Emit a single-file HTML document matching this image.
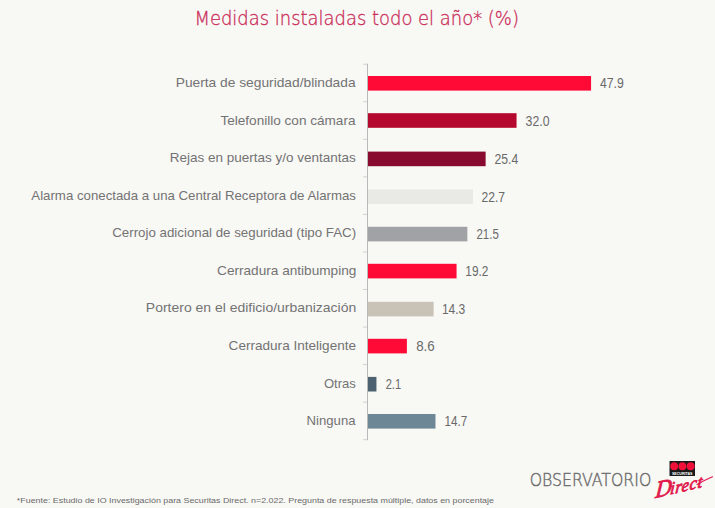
<!DOCTYPE html>
<html><head><meta charset="utf-8"><style>
html,body{margin:0;padding:0;background:#F8F8F5;overflow:hidden}
svg{display:block}
.title{font-family:"DejaVu Sans","Liberation Sans",sans-serif;font-weight:200;font-size:19px;fill:#CA2B57;stroke:#CA2B57;stroke-width:0.3px}
.lab{font-family:"Liberation Sans",sans-serif;font-size:12.8px;fill:#737373}
.val{font-family:"Liberation Sans",sans-serif;font-size:14.8px;fill:#6A6A6A}
.foot{font-family:"Liberation Sans",sans-serif;font-size:8px;fill:#6A6A6A}
.obs{font-family:"DejaVu Sans","Liberation Sans",sans-serif;font-weight:200;font-size:17.6px;fill:#6E6E6E;stroke:#6E6E6E;stroke-width:0.45px}
.sec{font-family:"Liberation Sans",sans-serif;font-size:3.6px;font-weight:bold;fill:#fff}
.dir{font-family:"Liberation Serif",serif;font-style:italic;font-size:20px;fill:#E0174A;stroke:#E0174A;stroke-width:0.8px}
</style></head><body>
<svg width="715" height="508" viewBox="0 0 715 508">
<rect width="715" height="508" fill="#F8F8F5"/>
<text x="194.46" y="24.50" class="title" textLength="324.45" lengthAdjust="spacingAndGlyphs">Medidas instaladas todo el año* (%)</text>
<rect x="367" y="63.70" width="1" height="376.50" fill="#B9B9B9"/>
<rect x="363" y="63.70" width="4" height="1" fill="#D2D2D2"/>
<rect x="363" y="101.25" width="4" height="1" fill="#D2D2D2"/>
<rect x="363" y="138.80" width="4" height="1" fill="#D2D2D2"/>
<rect x="363" y="176.35" width="4" height="1" fill="#D2D2D2"/>
<rect x="363" y="213.90" width="4" height="1" fill="#D2D2D2"/>
<rect x="363" y="251.45" width="4" height="1" fill="#D2D2D2"/>
<rect x="363" y="289.00" width="4" height="1" fill="#D2D2D2"/>
<rect x="363" y="326.55" width="4" height="1" fill="#D2D2D2"/>
<rect x="363" y="364.10" width="4" height="1" fill="#D2D2D2"/>
<rect x="363" y="401.65" width="4" height="1" fill="#D2D2D2"/>
<rect x="363" y="439.20" width="4" height="1" fill="#D2D2D2"/>
<rect x="368" y="76.00" width="223.06" height="14.6" fill="#FF0A36"/>
<text x="175.71" y="87.17" class="lab" textLength="179.87" lengthAdjust="spacingAndGlyphs">Puerta de seguridad/blindada</text>
<text x="600.00" y="88.30" class="val" textLength="23.75" lengthAdjust="spacingAndGlyphs">47.9</text>
<rect x="368" y="113.20" width="148.55" height="14.6" fill="#B4082F"/>
<text x="220.45" y="124.73" class="lab" textLength="135.05" lengthAdjust="spacingAndGlyphs">Telefonillo con cámara</text>
<text x="525.60" y="125.50" class="val" textLength="23.91" lengthAdjust="spacingAndGlyphs">32.0</text>
<rect x="368" y="151.60" width="117.62" height="14.6" fill="#880A2E"/>
<text x="169.73" y="162.27" class="lab" textLength="186.14" lengthAdjust="spacingAndGlyphs">Rejas en puertas y/o ventantas</text>
<text x="494.49" y="163.90" class="val" textLength="23.81" lengthAdjust="spacingAndGlyphs">25.4</text>
<rect x="368" y="189.40" width="104.97" height="14.6" fill="#E9E9E5"/>
<text x="31.32" y="199.82" class="lab" textLength="324.66" lengthAdjust="spacingAndGlyphs">Alarma conectada a una Central Receptora de Alarmas</text>
<text x="481.49" y="201.70" class="val" textLength="23.54" lengthAdjust="spacingAndGlyphs">22.7</text>
<rect x="368" y="226.80" width="99.35" height="14.6" fill="#A1A2A5"/>
<text x="112.27" y="237.38" class="lab" textLength="243.86" lengthAdjust="spacingAndGlyphs">Cerrojo adicional de seguridad (tipo FAC)</text>
<text x="476.50" y="239.10" class="val" textLength="22.28" lengthAdjust="spacingAndGlyphs">21.5</text>
<rect x="368" y="263.80" width="88.57" height="14.6" fill="#FF0A36"/>
<text x="217.07" y="274.92" class="lab" textLength="139.26" lengthAdjust="spacingAndGlyphs">Cerradura antibumping</text>
<text x="465.36" y="276.10" class="val" textLength="23.12" lengthAdjust="spacingAndGlyphs">19.2</text>
<rect x="368" y="301.80" width="65.61" height="14.6" fill="#C9C2B7"/>
<text x="145.86" y="312.47" class="lab" textLength="210.37" lengthAdjust="spacingAndGlyphs">Portero en el edificio/urbanización</text>
<text x="441.92" y="314.10" class="val" textLength="23.38" lengthAdjust="spacingAndGlyphs">14.3</text>
<rect x="368" y="338.80" width="38.90" height="14.6" fill="#FF0A36"/>
<text x="228.61" y="350.02" class="lab" textLength="127.43" lengthAdjust="spacingAndGlyphs">Cerradura Inteligente</text>
<text x="416.13" y="351.10" class="val" textLength="18.61" lengthAdjust="spacingAndGlyphs">8.6</text>
<rect x="368" y="376.90" width="8.44" height="14.6" fill="#4C6270"/>
<text x="323.96" y="387.57" class="lab" textLength="31.87" lengthAdjust="spacingAndGlyphs">Otras</text>
<text x="385.64" y="389.20" class="val" textLength="15.42" lengthAdjust="spacingAndGlyphs">2.1</text>
<rect x="368" y="414.00" width="67.48" height="14.6" fill="#6E8796"/>
<text x="306.55" y="425.12" class="lab" textLength="48.95" lengthAdjust="spacingAndGlyphs">Ninguna</text>
<text x="444.47" y="426.30" class="val" textLength="22.73" lengthAdjust="spacingAndGlyphs">14.7</text>
<text x="16.84" y="502.70" class="foot" textLength="477.12" lengthAdjust="spacingAndGlyphs">*Fuente: Estudio de IO Investigación para Securitas Direct. n=2.022. Pregunta de respuesta múltiple, datos en porcentaje</text>
<text x="529.74" y="485.90" class="obs" textLength="121.52" lengthAdjust="spacingAndGlyphs">OBSERVATORIO</text>
<g>
<rect x="669.5" y="461" width="25.5" height="15" fill="#1a1a1a"/>
<circle cx="674.2" cy="466.2" r="3.95" fill="#F0103A"/>
<circle cx="682.4" cy="466.2" r="3.95" fill="#F0103A"/>
<circle cx="690.6" cy="466.2" r="3.95" fill="#F0103A"/>
<text x="682.2" y="475" text-anchor="middle" class="sec">SECURITAS</text>
<text x="0" y="0" class="dir" transform="translate(655 498) rotate(-13) skewX(-18)"><tspan font-size="23">D</tspan><tspan font-size="17" dx="-1.5" letter-spacing="0.6">irect</tspan></text>
<path d="M697 484.5 Q705 480 712.5 476.8" stroke="#E3174A" stroke-width="1.1" fill="none" stroke-linecap="round"/>
</g>
</svg>
</body></html>
